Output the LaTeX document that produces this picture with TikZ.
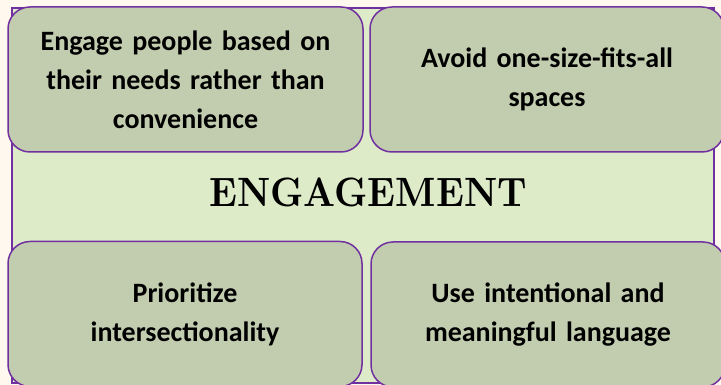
\documentclass[tikz,border=0pt]{standalone}
\usepackage{fontspec}
\setmainfont{Carlito}
\newfontfamily\headfont{lmroman10-bold}[Extension=.otf,FakeStretch=0.9]
\usetikzlibrary{positioning}
\definecolor{cream}{HTML}{FFF8EE}
\definecolor{palegreen}{HTML}{DDEBC9}
\definecolor{sage}{HTML}{C2CDAF}
\definecolor{violet}{HTML}{7030A0}

\begin{document}
\begin{tikzpicture}[
		x=1pt,y=1pt,
		band/.style={
			draw=violet,
			fill=palegreen,
			line width=1.5pt
		},
		idea/.style={
			draw=violet,
			fill=sage,
			line width=1.5pt,
			rounded corners=22pt,
			minimum height=145pt,
			align=center,
			font=\fontsize{28}{39}\selectfont\bfseries
		},
		title/.style={
			font=\fontsize{41}{46}\selectfont\headfont
		}
		]
		\useasboundingbox (0,0) rectangle (721,385);
		\fill[cream] (0,0) rectangle (721,385);
		\clip (0,0) rectangle (721,385);
		% central band
		\draw[band] (12,2) rectangle (714,377);
		\node[title] (core) at (368,193) {ENGAGEMENT};
		% four boxes
		\node[idea,minimum width=355pt,text width=330pt] (needs) at (185.5,305.5)
			{Engage people based on\\their needs rather than\\convenience};
		\node[idea,minimum width=354pt,text width=330pt] (spaces) at (547,305.5)
			{Avoid one-size-fits-all\\spaces};
		\node[idea,minimum width=354pt,text width=330pt] (inter) at (185,71)
			{Prioritize\\intersectionality};
		\node[idea,minimum width=354pt,text width=330pt] (lang) at (548,70.5)
			{Use intentional and\\meaningful language};
\end{tikzpicture}
\end{document}
